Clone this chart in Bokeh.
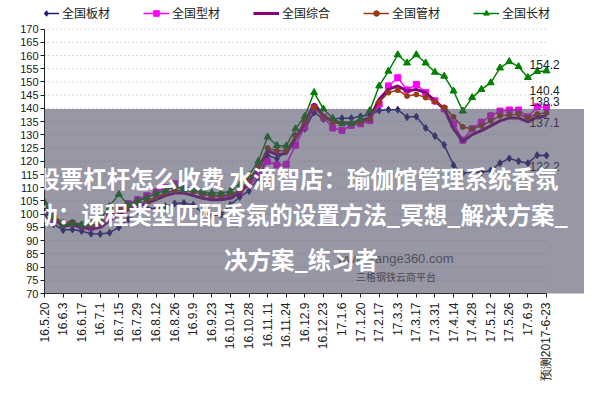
import math
from bokeh.plotting import figure
from bokeh.models import Range1d, FixedTicker, BoxAnnotation, Label, Legend, LegendItem
from bokeh.embed import file_html
from bokeh.resources import INLINE

# ---- data -------------------------------------------------------------
idx = list(range(55))
tick_idx = list(range(0, 55, 2))
tick_labels = ["16.5.20", "16.6.3", "16.6.17", "16.7.1", "16.7.15", "16.7.29", "16.8.12",
               "16.8.26", "16.9.9", "16.9.23", "16.10.14", "16.10.28", "16.11.11", "16.11.24",
               "16.12.9", "16.12.23", "17.1.6", "17.1.20", "17.2.17", "17.3.3", "17.3.17",
               "17.3.31", "17.4.14", "17.4.28", "17.5.12", "17.5.26", "17.6.9", "预测2017-6-23"]
y_ticks = list(range(70, 171, 5))

plate = [99.5, 96.2, 94.0, 94.2, 93.6, 92.6, 92.5, 93.0, 95.0, 98.0,
         101.0, 102.5, 102.0, 103.0, 104.0, 104.2, 103.5, 100.5, 99.5, 99.8,
         103.5, 106.5, 108.8, 113.7, 122.2, 121.0, 123.7, 129.7, 132.3, 138.5,
         136.0, 136.0, 136.3, 136.3, 137.0, 137.5, 139.2, 139.5, 139.5, 136.7,
         136.9, 132.6, 129.6, 126.2, 118.5, 115.5, 116.0, 115.8, 116.5, 119.3,
         121.1, 120.0, 119.3, 122.3, 122.2]
section = [102.0, 98.5, 96.0, 96.5, 95.5, 95.0, 96.0, 99.0, 102.0, 104.0,
           105.5, 107.0, 108.5, 110.0, 111.5, 110.5, 109.5, 108.0, 107.0, 106.5,
           107.0, 108.5, 111.0, 114.5, 119.9, 118.6, 118.9, 126.1, 133.0, 140.4,
           136.7, 132.6, 131.7, 133.6, 134.2, 135.4, 141.6, 148.5, 151.6, 147.0,
           149.1, 146.0, 142.9, 139.8, 134.2, 128.0, 132.3, 134.8, 137.2, 139.0,
           139.4, 139.4, 136.8, 140.6, 140.4]
composite = [101.0, 98.0, 95.5, 96.0, 95.0, 94.5, 95.0, 97.5, 100.0, 101.5,
             103.0, 104.0, 105.5, 107.0, 108.0, 108.0, 107.0, 106.0, 105.5, 105.5,
             106.0, 108.0, 112.0, 117.0, 124.0, 122.5, 123.0, 128.6, 134.5, 141.8,
             137.2, 135.0, 134.5, 134.5, 135.2, 136.5, 143.5, 147.2, 148.5, 146.6,
             147.2, 146.0, 142.9, 139.8, 132.3, 127.5, 130.1, 131.6, 133.4, 135.3,
             136.4, 136.4, 134.9, 136.8, 137.1]
pipe = [102.5, 99.0, 97.0, 97.0, 96.0, 95.5, 96.5, 99.5, 102.0, 102.5,
        104.0, 105.0, 106.5, 108.0, 109.0, 109.0, 108.5, 107.5, 107.0, 107.0,
        107.5, 109.0, 113.0, 118.0, 125.0, 124.0, 124.0, 129.5, 135.0, 140.5,
        136.8, 134.8, 134.5, 134.2, 134.8, 136.0, 142.3, 146.0, 146.9, 144.7,
        145.3, 144.1, 142.5, 140.4, 136.8, 133.0, 132.3, 133.4, 135.3, 137.2,
        137.5, 137.9, 136.4, 137.9, 138.3]
long_ = [104.5, 99.0, 96.0, 96.5, 96.0, 96.5, 98.0, 103.0, 107.5, 103.5,
         105.0, 106.2, 107.8, 109.0, 110.5, 109.5, 109.2, 108.5, 108.0, 108.0,
         108.7, 111.0, 114.8, 120.0, 129.2, 126.0, 125.8, 132.3, 137.0, 146.0,
         139.8, 136.3, 134.2, 134.4, 136.0, 139.2, 148.5, 154.1, 160.3, 157.2,
         160.3, 157.2, 153.7, 152.2, 146.6, 139.0, 144.1, 147.2, 149.7, 155.3,
         157.7, 155.8, 151.7, 154.0, 154.2]

series_names = ["全国板材", "全国型材", "全国综合", "全国管材", "全国长材"]
end_labels = ["154.2", "140.4", "138.3", "137.1", "122.2"]

# ---- figure -----------------------------------------------------------
# the frame reaches the top/right canvas edges so legend and end labels are not clipped;
# the axes themselves are bounded to the data region.
p = figure(width=584, height=384, x_range=Range1d(0, 58.09), y_range=Range1d(70, 180.82),
           output_backend="svg", toolbar_location=None,
           min_border_left=44, min_border_right=0, min_border_top=0, min_border_bottom=87)
p.outline_line_color = None
p.background_fill_color = "white"
p.border_fill_color = "white"
p.xgrid.visible = False
p.ygrid.visible = False

# dotted horizontal gridlines over the data region
grid_vals = [v for v in y_ticks if v > 70]
p.segment(x0=[0] * len(grid_vals), x1=[54] * len(grid_vals), y0=grid_vals, y1=grid_vals,
          line_color="#B8B8B8", line_dash="1 3", line_width=1)

p.yaxis.ticker = FixedTicker(ticks=y_ticks)
p.yaxis.bounds = (70, 170)
p.xaxis.ticker = FixedTicker(ticks=tick_idx)
p.xaxis.bounds = (0, 54)
p.xaxis.major_label_overrides = {t: lab for t, lab in zip(tick_idx, tick_labels)}
p.xaxis.major_label_orientation = math.pi / 2
for ax in (p.xaxis, p.yaxis):
    ax.axis_line_color = "#202020"
    ax.major_tick_line_color = "#202020"
    ax.major_tick_out = 4
    ax.major_tick_in = 0
    ax.minor_tick_line_color = None
    ax.major_label_text_color = "#202020"
    ax.major_label_text_font = "Liberation Sans"
p.yaxis.major_label_text_font_size = "11px"
p.yaxis.major_label_standoff = 2
p.xaxis.major_label_text_font_size = "12px"
p.xaxis.major_label_standoff = 5

styles = [
    (plate, "#1E1E78", "diamond", 7),
    (section, "#FF00FF", "square", 6),
    (composite, "#800080", None, 0),
    (pipe, "#9A3A10", "circle", 5),
    (long_, "#008000", "triangle", 7),
]
items = []
for (vals, col, mk, sz), name in zip(styles, series_names):
    rs = []
    lw = 3 if mk is None else 1.5
    rs.append(p.line(idx, vals, line_color=col, line_width=lw))
    if mk:
        rs.append(p.scatter(idx, vals, marker=mk, size=sz, fill_color=col, line_color=col))
    items.append(LegendItem(label=name, renderers=rs))

legend = Legend(items=items, orientation="horizontal", location=(-11, 272), spacing=33,
                glyph_width=26, glyph_height=14, label_height=14, label_standoff=3,
                padding=2, margin=0, border_line_color=None, background_fill_alpha=0,
                label_text_font="Noto Sans CJK SC", label_text_font_size="12px",
                label_text_color="#202020")
p.add_layout(legend)

# end-value labels
label_pos = {"154.2": 156.6, "140.4": 146.6, "138.3": 142.5, "137.1": 134.6, "122.2": 118.1}
for t in end_labels:
    p.add_layout(Label(x=53.8, y=label_pos[t], text=t, text_align="center", text_baseline="middle",
                       text_font="Liberation Sans", text_font_size="12px", text_color="#202020"))

# source watermark of the chart
p.add_layout(Label(x=44.0, y=83.1, text="www.sange360.com", text_align="right", text_baseline="middle",
                   text_font="Liberation Sans", text_font_size="13px", text_color="#555555"))
p.add_layout(Label(x=37.8, y=76.3, text="三格钢铁云商平台", text_align="center", text_baseline="middle",
                   text_font="Noto Sans CJK SC", text_font_size="10px", text_color="#444444"))

# gray overlay band
p.add_layout(BoxAnnotation(left=-10, right=70, bottom=68.9, top=139.8, fill_color="#4b4b64",
                           fill_alpha=0.58, line_color=None))

# overlay title text
title_lines = [("股票杠杆怎么收费 水滴智店：瑜伽馆管理系统香氛", 113.7, 27.2),
               ("动：课程类型匹配香氛的设置方法_冥想_解决方案_", 100.2, 27.6),
               ("决方案_练习者", 83.1, 27.6)]
for t, yv, xv in title_lines:
    p.add_layout(Label(x=xv, y=yv, text=t, text_align="center", text_baseline="middle",
                       text_font="Noto Sans CJK SC", text_font_size="23.5px", text_font_style="bold",
                       text_color="white", level="overlay"))

open("out.html", "w").write(file_html(p, INLINE))
